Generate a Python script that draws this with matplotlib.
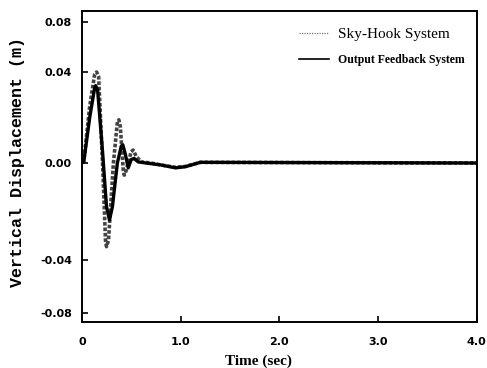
import numpy as np
import matplotlib.pyplot as plt
from matplotlib.lines import Line2D

# time (sec) and vertical displacement (m)
t_sky = [0.0, 0.02, 0.08, 0.13, 0.15, 0.17, 0.21, 0.24, 0.25, 0.27, 0.32, 0.36, 0.375,
         0.39, 0.42, 0.43, 0.45, 0.50, 0.52, 0.55, 0.60, 0.70, 0.80, 0.95, 1.05, 1.20, 4.0]
y_sky = [0.0, 0.001, 0.025, 0.039, 0.040, 0.038, 0.0, -0.032, -0.0345, -0.032, 0.0, 0.018, 0.019,
         0.016, -0.003, -0.005, -0.003, 0.005, 0.0057, 0.003, 0.0005, 0.0, -0.0008, -0.0018, -0.0014, 0.0003, 0.0]

t_ofb = [0.0, 0.02, 0.08, 0.13, 0.14, 0.16, 0.21, 0.25, 0.28, 0.31, 0.36, 0.40, 0.415,
         0.44, 0.47, 0.50, 0.53, 0.57, 0.65, 0.80, 0.95, 1.05, 1.20, 4.0]
y_ofb = [0.0, 0.0005, 0.020, 0.033, 0.034, 0.032, 0.005, -0.018, -0.0235, -0.018, 0.0, 0.0075, 0.008,
         0.004, -0.002, 0.0015, 0.002, 0.0005, 0.0, -0.0008, -0.002, -0.0015, 0.0003, 0.0]

x_ticks = [0, 1, 2, 3, 4]
x_labels = ['0', '1.0', '2.0', '3.0', '4.0']
y_ticks = [-0.08, -0.04, 0.0, 0.04, 0.08]
y_labels = ['-0.08', '-0.04', '0.00', '0.04', '0.08']

# the printed y axis is not evenly spaced; reproduce it with a piecewise scale
_v = np.array([-0.10, -0.08, -0.04, 0.0, 0.04, 0.08, 0.10])
_p = -np.array([339.5, 313, 260, 163, 72, 22, -3.0])


def fwd(v):
    return np.interp(v, _v, _p)


def inv(p):
    return np.interp(p, _p, _v)


fig = plt.figure(figsize=(4.87, 3.68), dpi=100)
ax = fig.add_axes([0.168, 0.125, 0.811, 0.845])
ax.set_yscale('function', functions=(fwd, inv))

ax.plot(t_sky, y_sky, color='#444444', lw=2.6, ls=(0, (1, 0.5)))
ax.plot(t_ofb, y_ofb, color='black', lw=2.4)

ax.set_xlim(0, 4.0)
ax.set_ylim(-0.0868, 0.0888)
ax.set_xticks(x_ticks)
ax.set_xticklabels(x_labels, fontsize=8, fontweight='bold', family='DejaVu Sans')
ax.set_yticks(y_ticks)
ax.set_yticklabels(y_labels, fontsize=8, fontweight='bold', family='DejaVu Sans')
ax.minorticks_off()
ax.tick_params(axis='both', direction='in', length=4, width=1.2)
ax.tick_params(axis='x', pad=11)
ax.tick_params(axis='y', pad=7)

for s in ax.spines.values():
    s.set_linewidth(1.4)

ax.set_xlabel('Time (sec)', fontsize=11, fontweight='bold', family='Liberation Serif')
ax.xaxis.set_label_coords(0.446, -0.105)
ax.set_ylabel('Vertical Displacement (m)', fontsize=12, fontweight='bold', family='Liberation Mono')
ax.yaxis.set_label_coords(-0.145, 0.515)

handles = [Line2D([], [], color='#777777', lw=0.9, ls=(0, (1, 1))),
           Line2D([], [], color='black', lw=1.2)]
leg = ax.legend(handles, ['Sky-Hook System', 'Output Feedback System'],
                loc='upper right', frameon=False, handlelength=2.2, handletextpad=0.6,
                labelspacing=0.9, bbox_to_anchor=(1.0, 0.985))
tx = leg.get_texts()
tx[0].set_fontfamily('Liberation Serif')
tx[0].set_fontsize(11)
tx[1].set_fontfamily('Liberation Serif')
tx[1].set_fontsize(8.5)
tx[1].set_fontweight('bold')

fig.savefig('out.png', dpi=100)
